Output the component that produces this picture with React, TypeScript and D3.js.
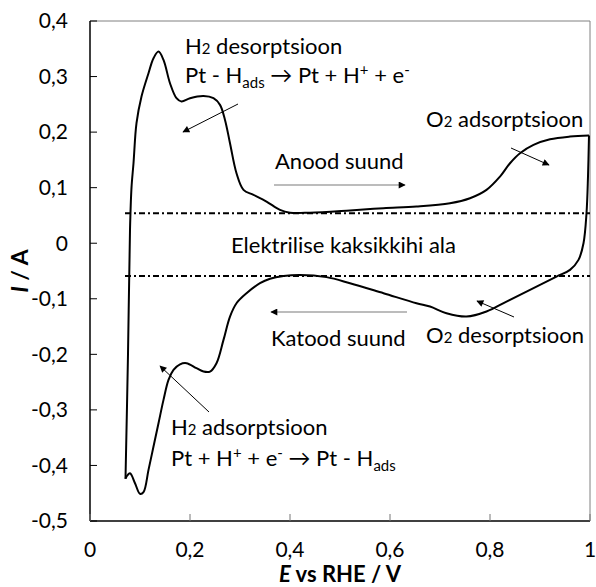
import React from "react";
import * as d3 from "d3";

// Anodic sweep (E in V vs RHE, I in A)
const anodicE = [0.071, 0.076, 0.080, 0.083, 0.087, 0.093, 0.103, 0.117, 0.127, 0.137, 0.147, 0.160, 0.173, 0.183, 0.200, 0.227, 0.247, 0.260, 0.270, 0.280, 0.293, 0.307, 0.327, 0.353, 0.380, 0.400, 0.440, 0.520, 0.587, 0.653, 0.720, 0.760, 0.793, 0.820, 0.840, 0.860, 0.887, 0.920, 0.960, 0.998];
const anodicI = [-0.424, -0.200, 0.024, 0.100, 0.144, 0.216, 0.264, 0.306, 0.333, 0.345, 0.330, 0.288, 0.261, 0.255, 0.261, 0.265, 0.261, 0.249, 0.222, 0.180, 0.126, 0.096, 0.087, 0.075, 0.060, 0.055, 0.055, 0.059, 0.063, 0.066, 0.072, 0.081, 0.096, 0.120, 0.144, 0.162, 0.177, 0.187, 0.192, 0.194];
// Cathodic sweep
const cathodicE = [0.998, 0.996, 0.993, 0.987, 0.977, 0.960, 0.933, 0.880, 0.833, 0.793, 0.753, 0.713, 0.680, 0.653, 0.587, 0.520, 0.473, 0.420, 0.387, 0.360, 0.340, 0.313, 0.293, 0.280, 0.267, 0.253, 0.240, 0.227, 0.213, 0.193, 0.180, 0.167, 0.157, 0.147, 0.137, 0.127, 0.117, 0.107, 0.100, 0.090, 0.080, 0.073, 0.071];
const cathodicI = [0.194, 0.120, 0.054, 0.000, -0.030, -0.048, -0.060, -0.084, -0.105, -0.123, -0.132, -0.126, -0.114, -0.108, -0.090, -0.072, -0.061, -0.057, -0.059, -0.064, -0.072, -0.090, -0.108, -0.132, -0.174, -0.216, -0.231, -0.231, -0.225, -0.216, -0.218, -0.228, -0.246, -0.282, -0.324, -0.366, -0.408, -0.448, -0.451, -0.432, -0.414, -0.420, -0.424];

// Double-layer region limits
const dlUpper = 0.054;
const dlLower = -0.059;
const dlStartE = 0.07;
const dlEndE = 1.0;

const yTicks = [0.4, 0.3, 0.2, 0.1, 0, -0.1, -0.2, -0.3, -0.4, -0.5];
const xTicks = [0, 0.2, 0.4, 0.6, 0.8, 1];

const FONT = "Lato, 'Open Sans', sans-serif";

const fmt = (v: number) => (v === 0 ? "0" : Math.abs(v - 1) < 1e-9 ? "1" : d3.format(".1f")(v).replace("−", "-").replace(".", ","));

export default function App() {
  const W = 596, H = 587;
  const x = d3.scaleLinear().domain([0, 1]).range([90, 590]);
  const y = d3.scaleLinear().domain([-0.5, 0.4]).range([521, 21]);

  const anodic: [number, number][] = anodicE.map((e, i) => [e, anodicI[i]]);
  const cathodic: [number, number][] = cathodicE.map((e, i) => [e, cathodicI[i]]);
  const line = d3.line<[number, number]>()
    .x((d) => x(d[0]))
    .y((d) => y(d[1]))
    .curve(d3.curveCatmullRom.alpha(0.5));

  const fs = 22;
  const tfs = 21;
  const sub = 0.68 * fs;

  return (
    <svg width={W} height={H} style={{ position: "absolute", left: 0, top: 0, background: "#fff" }} fontFamily={FONT}>
      <defs>
        <marker id="ah" viewBox="0 0 10 10" refX="9" refY="5" markerWidth="9" markerHeight="7" markerUnits="userSpaceOnUse" orient="auto">
          <path d="M0,0 L10,5 L0,10 z" fill="#000" />
        </marker>
      </defs>
      <rect x={0} y={0} width={W} height={H} fill="#fff" />
      {/* frame */}
      <line x1={x(0)} x2={x(1)} y1={y(0.4)} y2={y(0.4)} stroke="#808080" strokeWidth={1} />
      <line x1={x(1)} x2={x(1)} y1={y(0.4)} y2={y(-0.5)} stroke="#808080" strokeWidth={1} />
      {/* axes */}
      <line x1={x(0)} x2={x(0)} y1={y(0.4)} y2={y(-0.5)} stroke="#000" strokeWidth={1.5} />
      <line x1={x(0)} x2={x(1)} y1={y(-0.5)} y2={y(-0.5)} stroke="#000" strokeWidth={1.5} />
      {yTicks.map((t) => (
        <g key={"y" + t}>
          <line x1={x(0)} x2={x(0) + 7} y1={y(t)} y2={y(t)} stroke="#000" strokeWidth={1} />
          <text x={68} y={y(t)} dy="0.35em" textAnchor="end" fontSize={tfs} fill="#000">{fmt(t)}</text>
        </g>
      ))}
      {xTicks.map((t) => (
        <g key={"x" + t}>
          <line x1={x(t)} x2={x(t)} y1={y(-0.5)} y2={y(-0.5) - 7} stroke="#777" strokeWidth={1} />
          <text x={x(t)} y={557} textAnchor="middle" fontSize={tfs} fill="#000">{fmt(t)}</text>
        </g>
      ))}
      {/* axis titles */}
      <text x={340} y={582} textAnchor="middle" fontSize={22} fontWeight="bold" fill="#000">
        <tspan fontStyle="italic">E</tspan> vs RHE / V
      </text>
      <text transform={`translate(28,${y(-0.05)}) rotate(-90)`} textAnchor="middle" fontSize={23} fontWeight="bold" fill="#000">
        <tspan fontStyle="italic">I</tspan> / A
      </text>
      {/* double layer lines */}
      <line x1={x(dlStartE)} x2={x(dlEndE)} y1={y(dlUpper)} y2={y(dlUpper)} stroke="#000" strokeWidth={2} strokeDasharray="6 3 2 3" />
      <line x1={x(dlStartE)} x2={x(dlEndE)} y1={y(dlLower)} y2={y(dlLower)} stroke="#000" strokeWidth={2} strokeDasharray="6 3 2 3" />
      {/* CV curve */}
      <path d={line(anodic) || ""} fill="none" stroke="#000" strokeWidth={2} strokeLinejoin="round" />
      <path d={line(cathodic) || ""} fill="none" stroke="#000" strokeWidth={2} strokeLinejoin="round" />

      {/* annotations */}
      <text x={185} y={54} fontSize={fs} fill="#000">H<tspan fontSize={sub}>2</tspan> desorptsioon</text>
      <text x={185} y={83} fontSize={fs} fill="#000">
        Pt - H<tspan fontSize={sub} dy={5}>ads</tspan><tspan dy={-5}> → Pt + H</tspan><tspan fontSize={sub} dy={-8}>+</tspan><tspan dy={8}> + e</tspan><tspan fontSize={sub} dy={-8}>-</tspan>
      </text>
      <line x1={238} y1={104} x2={183} y2={132} stroke="#000" strokeWidth={1} markerEnd="url(#ah)" />

      <text x={275} y={169} fontSize={fs} fill="#000">Anood suund</text>
      <line x1={274} y1={185} x2={405} y2={185} stroke="#a6a6a6" strokeWidth={1.5} markerEnd="url(#ah)" />

      <text x={426} y={127} fontSize={fs} fill="#000">O<tspan fontSize={sub}>2</tspan> adsorptsioon</text>
      <line x1={511} y1={148} x2={549} y2={165} stroke="#000" strokeWidth={1} markerEnd="url(#ah)" />

      <text x={231} y={253} fontSize={fs} fill="#000">Elektrilise kaksikkihi ala</text>

      <line x1={407} y1={312} x2={271} y2={312} stroke="#a6a6a6" strokeWidth={1.5} markerEnd="url(#ah)" />
      <text x={271} y={346} fontSize={fs} fill="#000">Katood suund</text>

      <text x={426} y={343} fontSize={fs} fill="#000">O<tspan fontSize={sub}>2</tspan> desorptsioon</text>
      <line x1={514} y1={317} x2={477} y2={301} stroke="#000" strokeWidth={1} markerEnd="url(#ah)" />

      <text x={171} y={435} fontSize={fs} fill="#000">H<tspan fontSize={sub}>2</tspan> adsorptsioon</text>
      <text x={171} y={466} fontSize={fs} fill="#000">
        Pt + H<tspan fontSize={sub} dy={-8}>+</tspan><tspan dy={8}> + e</tspan><tspan fontSize={sub} dy={-8}>-</tspan><tspan dy={8}> → Pt - H</tspan><tspan fontSize={sub} dy={5}>ads</tspan>
      </text>
      <line x1={209} y1={412} x2={160} y2={366} stroke="#000" strokeWidth={1} markerEnd="url(#ah)" />
    </svg>
  );
}
